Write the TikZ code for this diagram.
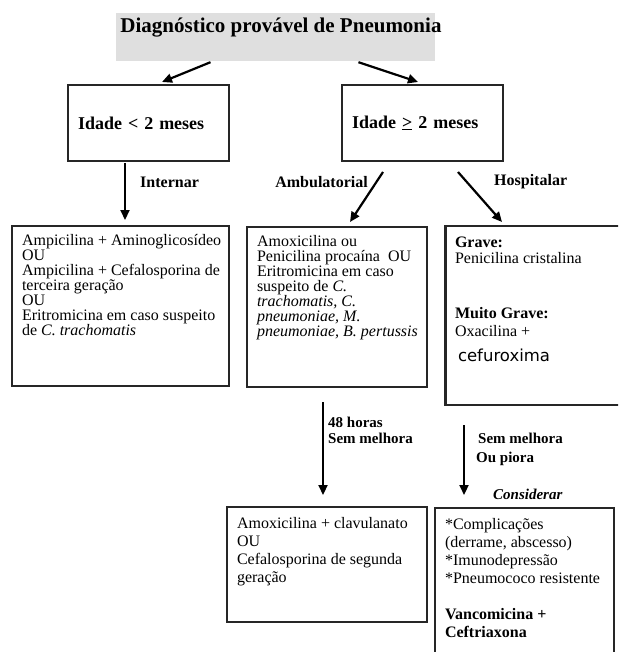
\documentclass[tikz,border=0pt]{standalone}
\usepackage{fontspec}
\setmainfont{Liberation Serif}
\newfontfamily\cefufont{DejaVu Sans}
\usetikzlibrary{arrows.meta}
\tikzset{% 
	box/.style={draw=black!85,line width=1.3pt,anchor=north west,inner xsep=5pt,inner ysep=7pt,outer sep=0pt},
	headbox/.style={box,inner xsep=10pt,text width=141pt,align=left,minimum height=76pt,font=\bfseries\fontsize{18}{20}\selectfont},
	lbl/.style={inner sep=0pt,font=\bfseries\fontsize{16}{16}\selectfont},
	arr/.style={line width=2.2pt,-{Triangle[length=10pt,width=9pt]}}
}

\begin{document}
\begin{tikzpicture}[x=1pt,y=-1pt]
		\clip (0,0) rectangle (618,652);

		\node[fill=gray!25,minimum width=319pt,minimum height=48pt] (diag) at (275.5,37) {};
		\node[font=\bfseries\fontsize{21}{22}\selectfont] (diagtxt) at (281,28) {Diagnóstico provável de Pneumonia};

		\node[headbox] (young) at (68,85) {Idade < 2 meses};
		\node[headbox] (old) at (342,85) {Idade \underline{>} 2 meses};

		\node[box,font=\fontsize{16}{15}\selectfont] (ped) at (12,226) {\parbox[t][146pt][t]{207pt}{\raggedright\leftskip=5pt
			\vspace*{1pt}Ampicilina + Aminoglicosídeo\\
			OU\\
			Ampicilina + Cefalosporina de\\
			terceira geração\\
			OU\\
			Eritromicina em caso suspeito\\
			de \textit{C. trachomatis}}};
		\node[box,font=\fontsize{16}{15}\selectfont] (ambu) at (247,227) {\parbox[t][146pt][t]{170pt}{\raggedright\leftskip=5pt
			\vspace*{1pt}Amoxicilina ou\\
			Penicilina procaína\ \ OU\\
			Eritromicina em caso\\
			suspeito de \textit{C.}\\
			\textit{trachomatis, C.}\\
			\textit{pneumoniae, M.}\\
			\textit{pneumoniae, B. pertussis}}};
		\node[box,font=\fontsize{16}{16}\selectfont] (hosp) at (445,226) {\parbox[t][165pt][t]{185pt}{\raggedright\leftskip=5pt
			\vspace*{4pt}\textbf{Grave:}\\
			Penicilina cristalina\\[39pt]
			\textbf{Muito Grave:}\\[2pt]
			Oxacilina +\\[9pt]
			\hspace*{3pt}{\cefufont\fontsize{16.5}{16}\selectfont cefuroxima}}};
		\draw[line width=3pt,black!85] (hosp.north west) -- (hosp.south west);

		\node[box,font=\fontsize{16}{18}\selectfont] (clav) at (227,507) {\parbox[t][101pt][t]{190pt}{\raggedright\leftskip=5pt
			\vspace*{3pt}Amoxicilina + clavulanato\\
			OU\\
			Cefalosporina de segunda\\
			geração}};
		\node[box,font=\fontsize{16}{18}\selectfont] (vanco) at (435,508) {\parbox[t][178pt][t]{169pt}{\raggedright\leftskip=5pt
			\vspace*{3pt}*Complicações\\
			(derrame, abscesso)\\
			{*}Imunodepressão\\
			{*}Pneumococo resistente\\[18pt]
			\textbf{Vancomicina +}\\
			\textbf{Ceftriaxona}}};

		% arrows
		\draw[arr] ([xshift=-65pt,yshift=-1pt]diag.south) -- ([xshift=13.5pt,yshift=3pt]young.north);
		\draw[arr] ([xshift=83pt,yshift=-1pt]diag.south) -- ([xshift=-4.5pt,yshift=3pt]old.north);
		\draw[arr] ([xshift=-23.5pt,yshift=-2pt]young.south) -- ([xshift=4.5pt,yshift=6pt]ped.north);
		\draw[arr] ([xshift=-39.5pt,yshift=-11pt]old.south) -- ([xshift=13pt,yshift=5pt]ambu.north);
		\draw[arr] ([xshift=35.5pt,yshift=-11pt]old.south) -- ([xshift=-40.5pt,yshift=4pt]hosp.north);
		\draw[arr] ([xshift=-14pt,yshift=-15pt]ambu.south) -- ([xshift=-4pt,yshift=12pt]clav.north);
		\draw[arr] ([xshift=-78.5pt,yshift=-20pt]hosp.south) -- ([xshift=-60.5pt,yshift=13pt]vanco.north);

		% labels
		\node[lbl,anchor=west] (internar) at (140,182) {Internar};
		\node[lbl,anchor=east] (ambtxt) at (368,182) {Ambulatorial};
		\node[lbl,anchor=west] (hosptxt) at (494,182) {Hospitalar};
		\node[lbl,anchor=west,align=left,font=\bfseries\fontsize{15}{16}\selectfont] (semmelhora) at (328,430) {48 horas\\Sem melhora};
		\node[lbl,anchor=west,align=left,font=\bfseries\fontsize{15}{16}\selectfont] (piora) at (476,449.5) {\hspace*{2pt}Sem melhora\\[3pt]Ou piora};
		\node[lbl,anchor=west,font=\bfseries\itshape\fontsize{15}{16}\selectfont] (considerar) at (493,494) {Considerar};

	\end{tikzpicture}
\end{document}
